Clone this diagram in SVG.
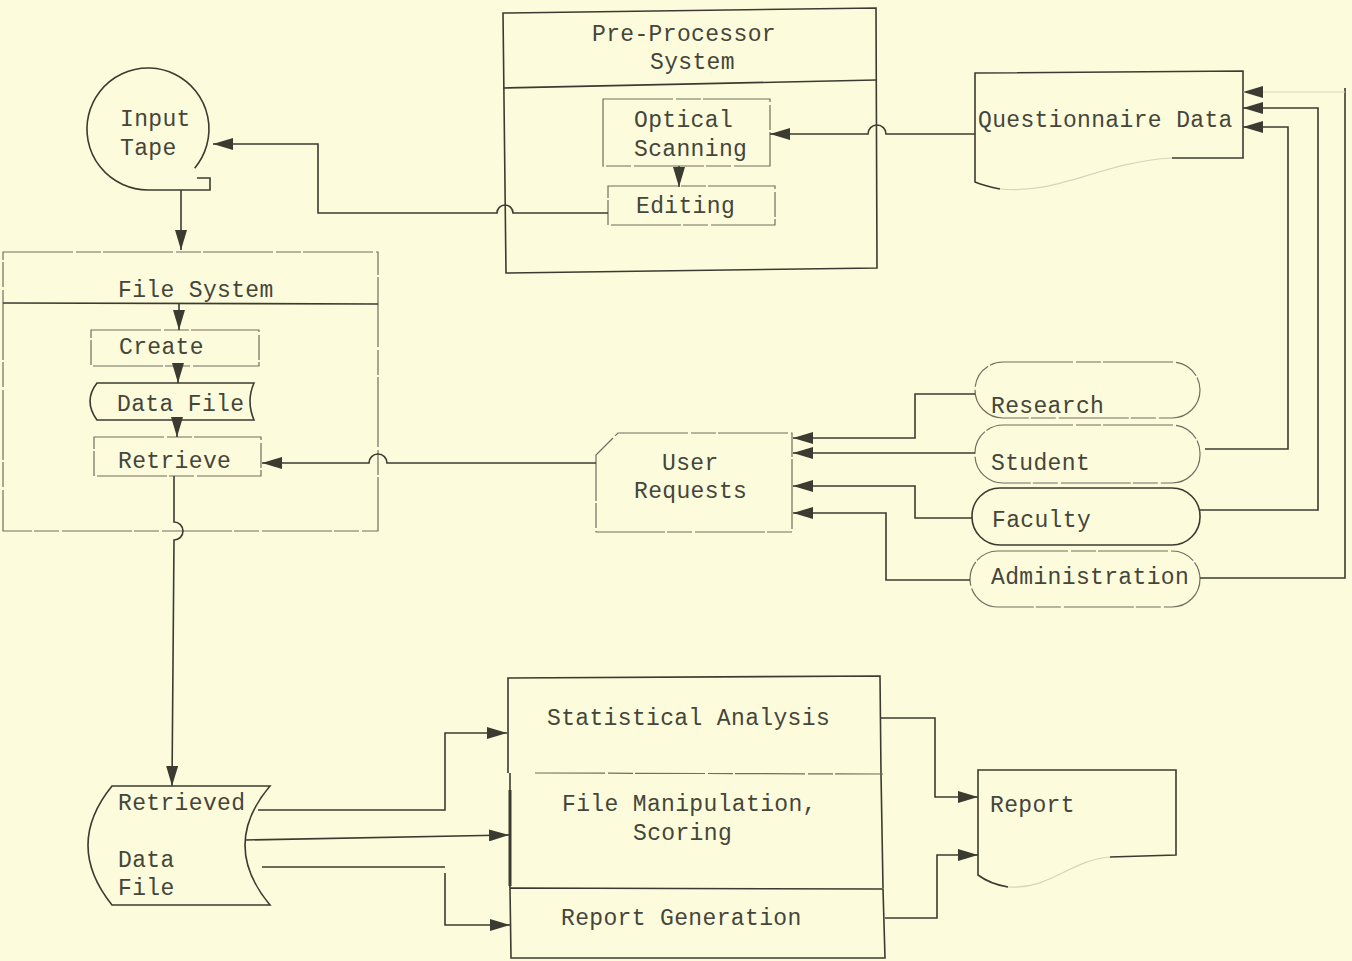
<svg xmlns="http://www.w3.org/2000/svg" width="1352" height="961" viewBox="0 0 1352 961">
  <defs>
    <style>
      .ln { fill: none; stroke: #3b3b31; stroke-width: 1.6; stroke-linejoin: miter; }
      .faint { fill: none; stroke: #6f6f60; stroke-width: 1.2; stroke-dasharray: 70 3 25 2; }
      .pale { fill: none; stroke: #d6d5bc; stroke-width: 1.2; }
      .bold { fill: none; stroke: #3b3b31; stroke-width: 3; }
      .conn { fill: none; stroke: #3b3b31; stroke-width: 1.6; }
      .lbl { font-family: "Liberation Mono", "DejaVu Sans Mono", monospace; font-size: 23px; letter-spacing: 0.35px; fill: #45453a; }
    </style>
    <marker id="arrow" markerUnits="userSpaceOnUse" markerWidth="20" markerHeight="12" refX="20" refY="6" orient="auto">
      <path d="M0,0 L20,6 L0,12 Z" fill="#3b3b31"/>
    </marker>
  </defs>

  <rect width="1352" height="961" fill="#fcfcdc"/>

  <!-- Input tape -->
  <g id="input-tape">
    <path class="ln" d="M194.7,168.2 A61 61 0 1 0 148,190 L210,190 L210,178 L197,178"/>
    <text class="lbl" x="120" y="126">Input</text>
    <text class="lbl" x="120" y="155">Tape</text>
  </g>

  <!-- Pre-processor system -->
  <g id="pre-processor">
    <path class="ln" d="M503,13 L876,8 L877,268 L506,273 Z"/>
    <path class="ln" d="M503,88 L876,80"/>
    <text class="lbl" x="592" y="41">Pre-Processor</text>
    <text class="lbl" x="650" y="69">System</text>
  </g>
  <g id="optical-scanning">
    <rect class="faint" x="603" y="99" width="167" height="67"/>
    <text class="lbl" x="634" y="127">Optical</text>
    <text class="lbl" x="634" y="156">Scanning</text>
  </g>
  <g id="editing">
    <rect class="faint" x="608" y="186" width="167" height="39"/>
    <text class="lbl" x="636" y="213">Editing</text>
  </g>

  <!-- Questionnaire data document -->
  <g id="questionnaire-data">
    <path class="ln" d="M1172,158 L1243,158 L1243,71 L975,73 L975,182 Q985,186 1000,189"/>
    <path class="pale" d="M1000,189 C1060,195 1100,162 1172,158"/>
    <text class="lbl" x="978" y="127">Questionnaire Data</text>
  </g>

  <!-- File system -->
  <g id="file-system">
    <rect class="faint" x="3" y="252" width="375" height="279"/>
    <path class="ln" d="M3,303 L378,304"/>
    <text class="lbl" x="118" y="297">File System</text>
  </g>
  <g id="create">
    <rect class="faint" x="91" y="330" width="168" height="36"/>
    <text class="lbl" x="119" y="354">Create</text>
  </g>
  <g id="data-file">
    <path class="ln" d="M97,383 L254,383 Q246,401 254,420 L97,420 Q83,401 97,383 Z"/>
    <text class="lbl" x="117" y="411">Data File</text>
  </g>
  <g id="retrieve">
    <rect class="faint" x="94" y="437" width="167" height="39"/>
    <text class="lbl" x="118" y="468">Retrieve</text>
  </g>

  <!-- User requests -->
  <g id="user-requests">
    <path class="faint" d="M618,433 L792,433 L792,532 L596,532 L596,455 Z"/>
    <text class="lbl" x="662" y="470">User</text>
    <text class="lbl" x="634" y="498">Requests</text>
  </g>

  <!-- User groups -->
  <g id="research">
    <rect class="faint" x="975" y="362" width="225" height="56" rx="28" ry="28"/>
    <text class="lbl" x="991" y="413">Research</text>
  </g>
  <g id="student">
    <rect class="faint" x="975" y="425" width="225" height="58" rx="28" ry="28"/>
    <text class="lbl" x="991" y="470">Student</text>
  </g>
  <g id="faculty">
    <rect class="ln" x="972" y="488" width="228" height="57" rx="28" ry="28"/>
    <text class="lbl" x="992" y="527">Faculty</text>
  </g>
  <g id="administration">
    <rect class="faint" x="970" y="551" width="230" height="56" rx="28" ry="28"/>
    <text class="lbl" x="991" y="584">Administration</text>
  </g>

  <!-- Retrieved data file -->
  <g id="retrieved-data-file">
    <path class="ln" d="M112,786 L270,786 Q220,845 270,905 L112,905 Q64,845 112,786 Z"/>
    <text class="lbl" x="118" y="810">Retrieved</text>
    <text class="lbl" x="118" y="867">Data</text>
    <text class="lbl" x="118" y="895">File</text>
  </g>

  <!-- Processing stack -->
  <g id="statistical-analysis">
    <path class="ln" d="M508,773 L508,678 L880,676 L881,773"/>
    <text class="lbl" x="547" y="725">Statistical Analysis</text>
  </g>
  <g id="file-manipulation">
    <path class="ln" d="M510,773 L510,888 M881,773 L883,888"/>
    <path class="faint" d="M535,773 L883,774"/>
    <path class="bold" d="M510,790 L510,886"/>
    <text class="lbl" x="562" y="811">File Manipulation,</text>
    <text class="lbl" x="633" y="840">Scoring</text>
  </g>
  <g id="report-generation">
    <path class="ln" d="M510,888 L883,889 L885,958 L511,958 Z"/>
    <text class="lbl" x="561" y="925">Report Generation</text>
  </g>

  <!-- Report document -->
  <g id="report">
    <path class="ln" d="M1110,857 L1176,855 L1176,770 L978,770 L978,875 Q990,884 1008,887"/>
    <path class="pale" d="M1008,887 C1050,890 1070,860 1110,857"/>
    <text class="lbl" x="990" y="812">Report</text>
  </g>

  <!-- Connectors -->
  <g id="connectors">
    <path class="conn" d="M181,190 L181,250" marker-end="url(#arrow)"/>
    <path class="conn" d="M608,213 L513,213 a8 8 0 0 0 -16 0 L318,213 L318,144 L213,144" marker-end="url(#arrow)"/>
    <path class="conn" d="M975,134 L886,134 a9 9 0 0 0 -18 0 L770,134" marker-end="url(#arrow)"/>
    <path class="conn" d="M679,166 L679,187" marker-end="url(#arrow)"/>

    <path class="conn" d="M179,304 L179,330" marker-end="url(#arrow)"/>
    <path class="conn" d="M178,366 L178,383" marker-end="url(#arrow)"/>
    <path class="conn" d="M177,420 L177,437" marker-end="url(#arrow)"/>
    <path class="conn" d="M596,463 L387,463 a9 9 0 0 0 -18 0 L262,463" marker-end="url(#arrow)"/>
    <path class="conn" d="M174,476 L174,522 a9 9 0 0 1 0 18 L172,786" marker-end="url(#arrow)"/>

    <path class="conn" d="M975,394 L915,394 L915,438 L793,438" marker-end="url(#arrow)"/>
    <path class="conn" d="M975,453 L793,453" marker-end="url(#arrow)"/>
    <path class="conn" d="M972,518 L915,518 L915,486 L793,486" marker-end="url(#arrow)"/>
    <path class="conn" d="M970,580 L886,580 L886,513 L793,513" marker-end="url(#arrow)"/>

    <path class="conn" d="M1205,449 L1288,449 L1288,127 L1243,127" marker-end="url(#arrow)"/>
    <path class="conn" d="M1200,510 L1318,510 L1318,108 L1243,108" marker-end="url(#arrow)"/>
    <path class="conn" d="M1200,578 L1345,578 L1345,88"/>
    <path class="pale" d="M1345,92 L1243,92" marker-end="url(#arrow)"/>

    <path class="conn" d="M258,810 L445,810 L445,733 L507,733" marker-end="url(#arrow)"/>
    <path class="conn" d="M245,840 L509,835" marker-end="url(#arrow)"/>
    <path class="conn" d="M262,867 L445,867"/>
    <path class="conn" d="M445,873 L445,925 L510,925" marker-end="url(#arrow)"/>

    <path class="conn" d="M880,718 L935,718 L935,797 L978,797" marker-end="url(#arrow)"/>
    <path class="conn" d="M885,918 L937,918 L937,855 L978,855" marker-end="url(#arrow)"/>
  </g>
</svg>
